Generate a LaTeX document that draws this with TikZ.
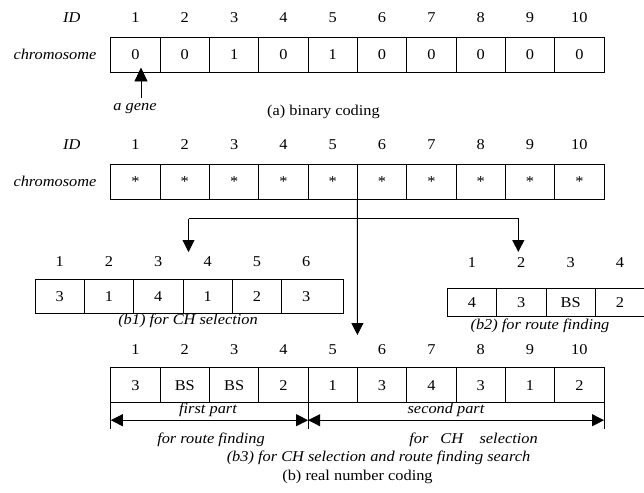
\documentclass[tikz,border=0pt]{standalone}
\usepackage{fontspec}
\setmainfont[FakeStretch=1.09]{Liberation Serif}
\usetikzlibrary{arrows.meta}

\begin{document}
\begin{tikzpicture}[x=1pt,y=-1pt,
  txt/.style={font=\fontsize{15}{17}\selectfont, inner sep=0pt, outer sep=0pt},
  itl/.style={txt, font=\fontsize{15}{17}\selectfont\itshape},
  cell/.style={draw, line width=0.9pt, minimum width=49.32pt, minimum height=35pt,
               inner sep=0pt, outer sep=0pt, font=\fontsize{15}{17}\selectfont},
  wire/.style={line width=0.9pt},
  tipdown/.style={wire, -{Triangle[length=12pt,width=12pt]}},
  dim/.style={wire, {Triangle[length=12pt,width=12pt]}-{Triangle[length=12pt,width=12pt]}}]
\useasboundingbox (0,0) rectangle (644,492);

% ---------- (a) binary coding ----------
\node[itl] (idA) at (71.7,18) {ID};
\node[itl] (chA) at (55,54.5) {chromosome};
\foreach \v [count=\i] in {0,0,1,0,1,0,0,0,0,0} {
  \node[cell] (a\i) at ({110.8+49.32*(\i-0.5)},54.5) {\v};
  \node[txt] (ai\i) at ({110.8+49.32*(\i-0.5)},18) {\i};
}
\node[itl] (gene) at (135,109) {a gene};
\coordinate (geneTail) at (141,98);
\coordinate (geneTip) at (141,67.5);
\draw[wire, -{Triangle[length=14pt,width=13pt]}] (geneTail) -- (geneTip);
\node[txt] (capA) at (323.5,111.7) {(a) binary coding};

% ---------- (b) real number coding ----------
\node[itl] (idB) at (71.7,145) {ID};
\node[itl] (chB) at (55,181.5) {chromosome};
\foreach \i in {1,...,10} {
  \node[cell] (b\i) at ({110.8+49.32*(\i-0.5)},181.5) {\raisebox{-0.35ex}{*}};
  \node[txt] (bi\i) at ({110.8+49.32*(\i-0.5)},145) {\i};
}

% branching connector
\coordinate (split) at (357.4,218.5);
\coordinate (toB1) at (188.5,218.5);
\coordinate (toB2) at (518.3,218.5);
\coordinate (b1tip) at (188.5,252);
\coordinate (b2tip) at (518.3,252);
\coordinate (b3tip) at (357.4,335);
\draw[tipdown] (b5.south east) -- (b3tip);
\draw[tipdown] (toB1) -- (toB2 -| split) -- (toB2) -- (b2tip);
\draw[tipdown] (toB1) -- (b1tip);

% (b1)
\foreach \v [count=\i] in {3,1,4,1,2} {
  \node[cell, minimum height=34.5pt] (p\i) at ({35+49.32*(\i-0.5)},296.2) {\v};
  \node[txt] (pi\i) at ({35+49.32*(\i-0.5)},262) {\i};
}
\node[cell, minimum height=34.5pt, minimum width=61.9pt] (p6) at (312.55,296.2) {};
\node[txt] (pv6) at (306.3,296.2) {3};
\node[txt] (pi6) at (306.3,262) {6};
\node[itl] (capB1) at (188,320.5) {(b1) for CH selection};

% (b2)
\foreach \v [count=\i] in {4,3,BS,2} {
  \node[cell, minimum height=28.4pt] (q\i) at ({447.3+49.32*(\i-0.5)},302.5) {\v};
  \node[txt] (qi\i) at ({447.3+49.32*(\i-0.5)},263) {\i};
}
\node[itl] (capB2) at (540,326) {(b2) for route finding};

% (b3)
\foreach \v [count=\i] in {3,BS,BS,2,1,3,4,3,1,2} {
  \node[cell] (r\i) at ({110.8+49.32*(\i-0.5)},385.2) {\v};
  \node[txt] (ri\i) at ({110.8+49.32*(\i-0.5)},350) {\i};
}

% part markers below (b3)
\draw[wire] (r1.south west) -- ++(0,26.5) coordinate (t0);
\draw[wire] (r4.south east) -- ++(0,26.5) coordinate (t1);
\draw[wire] (r10.south east) -- ++(0,26.5) coordinate (t2);
\path (r1.south west) ++(0,17.5) coordinate (d0);
\path (r4.south east) ++(0,17.5) coordinate (d1);
\path (r10.south east) ++(0,17.5) coordinate (d2);
\draw[dim] (d0) -- (d1);
\draw[dim] (d1) -- (d2);

\node[itl] (first) at (208,410) {first part};
\node[itl] (second) at (446,410) {second part};
\node[itl] (forRF) at (211,440) {for route finding};
\node[itl] (forCH) at (473.5,440) {for\hspace{0.8em}CH\hspace{1.1em}selection};
\node[itl] (capB3) at (378.5,458) {(b3) for CH selection and route finding search};
\node[txt] (capB) at (357.5,476.7) {(b) real number coding};
\end{tikzpicture}
\end{document}
